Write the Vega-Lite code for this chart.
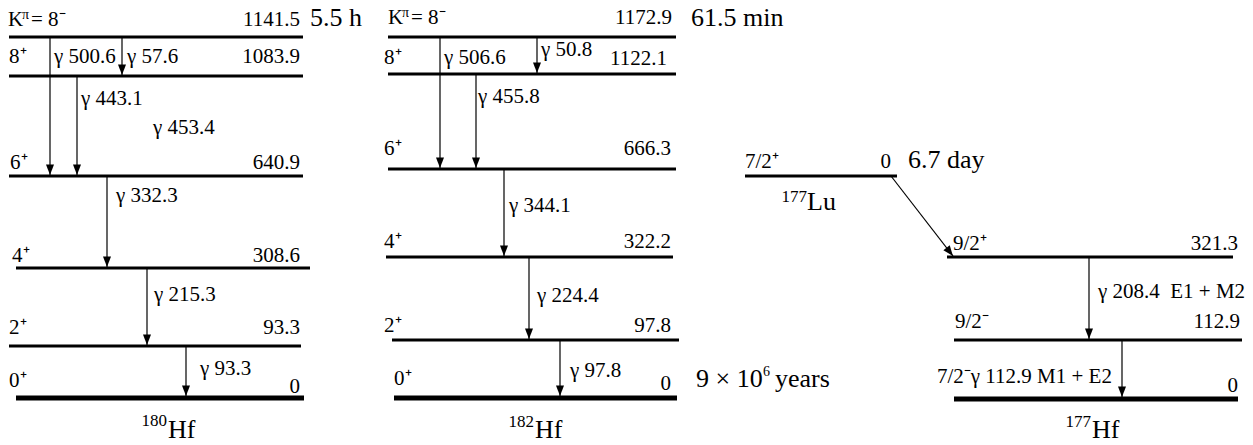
{
  "$schema": "https://vega.github.io/schema/vega-lite/v6.json",
  "width": 1253,
  "height": 445,
  "padding": 0,
  "autosize": {"type": "none"},
  "background": "white",
  "config": {"view": {"stroke": null}, "text": {"font": "Liberation Serif", "color": "black"}},
  "datasets": {
    "levels": [
      {"nuclide": "180Hf", "x1": 9, "x2": 303, "y": 37, "kind": "level"},
      {"nuclide": "180Hf", "x1": 9, "x2": 303, "y": 76, "kind": "level"},
      {"nuclide": "180Hf", "x1": 9, "x2": 303, "y": 176, "kind": "level"},
      {"nuclide": "180Hf", "x1": 16, "x2": 310, "y": 268, "kind": "level"},
      {"nuclide": "180Hf", "x1": 9, "x2": 301, "y": 346, "kind": "level"},
      {"nuclide": "180Hf", "x1": 16, "x2": 304, "y": 398, "kind": "ground"},
      {"nuclide": "182Hf", "x1": 388, "x2": 676, "y": 37, "kind": "level"},
      {"nuclide": "182Hf", "x1": 388, "x2": 676, "y": 74, "kind": "level"},
      {"nuclide": "182Hf", "x1": 388, "x2": 676, "y": 169, "kind": "level"},
      {"nuclide": "182Hf", "x1": 386, "x2": 673, "y": 257, "kind": "level"},
      {"nuclide": "182Hf", "x1": 392, "x2": 679, "y": 340, "kind": "level"},
      {"nuclide": "182Hf", "x1": 394, "x2": 677, "y": 398, "kind": "ground"},
      {"nuclide": "177Lu", "x1": 745, "x2": 897, "y": 176, "kind": "level"},
      {"nuclide": "177Hf", "x1": 947, "x2": 1233, "y": 257, "kind": "level"},
      {"nuclide": "177Hf", "x1": 954, "x2": 1242, "y": 340, "kind": "level"},
      {"nuclide": "177Hf", "x1": 954, "x2": 1238, "y": 399, "kind": "ground"}
    ],
    "transitions": [
      {"gamma": "57.6", "x1": 122, "y1": 37, "x2": 122, "y2": 75, "dir": "vertical"},
      {"gamma": "500.6", "x1": 50, "y1": 37, "x2": 50, "y2": 175, "dir": "vertical"},
      {"gamma": "443.1", "x1": 77, "y1": 76, "x2": 77, "y2": 175, "dir": "vertical"},
      {"gamma": "332.3", "x1": 107, "y1": 176, "x2": 107, "y2": 267, "dir": "vertical"},
      {"gamma": "215.3", "x1": 147, "y1": 268, "x2": 147, "y2": 345, "dir": "vertical"},
      {"gamma": "93.3", "x1": 186, "y1": 346, "x2": 186, "y2": 396, "dir": "vertical"},
      {"gamma": "50.8", "x1": 537, "y1": 37, "x2": 537, "y2": 73, "dir": "vertical"},
      {"gamma": "506.6", "x1": 440, "y1": 37, "x2": 440, "y2": 168, "dir": "vertical"},
      {"gamma": "455.8", "x1": 476, "y1": 74, "x2": 476, "y2": 168, "dir": "vertical"},
      {"gamma": "344.1", "x1": 504, "y1": 169, "x2": 504, "y2": 256, "dir": "vertical"},
      {"gamma": "224.4", "x1": 529, "y1": 257, "x2": 529, "y2": 339, "dir": "vertical"},
      {"gamma": "97.8", "x1": 560, "y1": 340, "x2": 560, "y2": 396, "dir": "vertical"},
      {"gamma": "beta", "x1": 891, "y1": 176, "x2": 953, "y2": 256, "dir": "diagonal"},
      {"gamma": "208.4", "x1": 1089, "y1": 257, "x2": 1089, "y2": 339, "dir": "vertical"},
      {"gamma": "112.9", "x1": 1122, "y1": 340, "x2": 1122, "y2": 397, "dir": "vertical"}
    ],
    "labels": [
      {"text": "K", "x": 8, "y": 26, "anchor": "start", "size": "label"},
      {"text": "π", "x": 22, "y": 19, "anchor": "start", "size": "supsmall"},
      {"text": "= 8⁻", "x": 31, "y": 26, "anchor": "start", "size": "label"},
      {"text": "1141.5", "x": 300, "y": 26, "anchor": "end", "size": "label"},
      {"text": "5.5 h", "x": 310, "y": 26, "anchor": "start", "size": "large"},
      {"text": "8⁺", "x": 9, "y": 63, "anchor": "start", "size": "label"},
      {"text": "γ 500.6", "x": 54, "y": 63, "anchor": "start", "size": "label"},
      {"text": "γ 57.6", "x": 127, "y": 63, "anchor": "start", "size": "label"},
      {"text": "1083.9", "x": 300, "y": 63, "anchor": "end", "size": "label"},
      {"text": "γ 443.1", "x": 81, "y": 105, "anchor": "start", "size": "label"},
      {"text": "γ 453.4", "x": 153, "y": 134, "anchor": "start", "size": "label"},
      {"text": "6⁺", "x": 10, "y": 169, "anchor": "start", "size": "label"},
      {"text": "640.9", "x": 300, "y": 169, "anchor": "end", "size": "label"},
      {"text": "γ 332.3", "x": 116, "y": 202, "anchor": "start", "size": "label"},
      {"text": "4⁺", "x": 12, "y": 262, "anchor": "start", "size": "label"},
      {"text": "308.6", "x": 300, "y": 262, "anchor": "end", "size": "label"},
      {"text": "γ 215.3", "x": 154, "y": 301, "anchor": "start", "size": "label"},
      {"text": "2⁺", "x": 9, "y": 334, "anchor": "start", "size": "label"},
      {"text": "93.3", "x": 300, "y": 334, "anchor": "end", "size": "label"},
      {"text": "γ 93.3", "x": 200, "y": 375, "anchor": "start", "size": "label"},
      {"text": "0⁺", "x": 9, "y": 387, "anchor": "start", "size": "label"},
      {"text": "0", "x": 300, "y": 393, "anchor": "end", "size": "label"},
      {"text": "180", "x": 167, "y": 426, "anchor": "end", "size": "sup"},
      {"text": "Hf", "x": 168, "y": 438, "anchor": "start", "size": "nuclide"},
      {"text": "K", "x": 388, "y": 24, "anchor": "start", "size": "label"},
      {"text": "π", "x": 402, "y": 17, "anchor": "start", "size": "supsmall"},
      {"text": "= 8⁻", "x": 411, "y": 24, "anchor": "start", "size": "label"},
      {"text": "1172.9", "x": 672, "y": 24, "anchor": "end", "size": "label"},
      {"text": "61.5 min", "x": 691, "y": 26, "anchor": "start", "size": "large"},
      {"text": "8⁺", "x": 384, "y": 64, "anchor": "start", "size": "label"},
      {"text": "γ 506.6", "x": 444, "y": 64, "anchor": "start", "size": "label"},
      {"text": "γ 50.8", "x": 541, "y": 56, "anchor": "start", "size": "label"},
      {"text": "1122.1", "x": 667, "y": 65, "anchor": "end", "size": "label"},
      {"text": "γ 455.8", "x": 478, "y": 103, "anchor": "start", "size": "label"},
      {"text": "6⁺", "x": 384, "y": 155, "anchor": "start", "size": "label"},
      {"text": "666.3", "x": 671, "y": 155, "anchor": "end", "size": "label"},
      {"text": "γ 344.1", "x": 509, "y": 212, "anchor": "start", "size": "label"},
      {"text": "4⁺", "x": 384, "y": 248, "anchor": "start", "size": "label"},
      {"text": "322.2", "x": 671, "y": 248, "anchor": "end", "size": "label"},
      {"text": "γ 224.4", "x": 537, "y": 302, "anchor": "start", "size": "label"},
      {"text": "2⁺", "x": 384, "y": 332, "anchor": "start", "size": "label"},
      {"text": "97.8", "x": 671, "y": 332, "anchor": "end", "size": "label"},
      {"text": "γ 97.8", "x": 570, "y": 377, "anchor": "start", "size": "label"},
      {"text": "0⁺", "x": 394, "y": 385, "anchor": "start", "size": "label"},
      {"text": "0", "x": 671, "y": 390, "anchor": "end", "size": "label"},
      {"text": "9 × 10", "x": 696, "y": 387, "anchor": "start", "size": "large"},
      {"text": "6", "x": 763, "y": 376, "anchor": "start", "size": "supsmall"},
      {"text": "years", "x": 775, "y": 387, "anchor": "start", "size": "large"},
      {"text": "182", "x": 534, "y": 427, "anchor": "end", "size": "sup"},
      {"text": "Hf", "x": 535, "y": 438, "anchor": "start", "size": "nuclide"},
      {"text": "7/2⁺", "x": 745, "y": 168, "anchor": "start", "size": "label"},
      {"text": "0", "x": 891, "y": 168, "anchor": "end", "size": "label"},
      {"text": "6.7 day", "x": 908, "y": 168, "anchor": "start", "size": "large"},
      {"text": "177", "x": 807, "y": 202, "anchor": "end", "size": "sup"},
      {"text": "Lu", "x": 807, "y": 210, "anchor": "start", "size": "nuclide"},
      {"text": "9/2⁺", "x": 953, "y": 250, "anchor": "start", "size": "label"},
      {"text": "321.3", "x": 1238, "y": 250, "anchor": "end", "size": "label"},
      {"text": "γ 208.4\u00a0\u00a0E1 + M2", "x": 1098, "y": 298, "anchor": "start", "size": "label"},
      {"text": "9/2⁻", "x": 955, "y": 328, "anchor": "start", "size": "label"},
      {"text": "112.9", "x": 1240, "y": 328, "anchor": "end", "size": "label"},
      {"text": "7/2⁻γ 112.9\u00a0M1 + E2", "x": 937, "y": 383, "anchor": "start", "size": "label"},
      {"text": "0", "x": 1238, "y": 392, "anchor": "end", "size": "label"},
      {"text": "177", "x": 1091, "y": 427, "anchor": "end", "size": "sup"},
      {"text": "Hf", "x": 1092, "y": 438, "anchor": "start", "size": "nuclide"}
    ]
  },
  "layer": [
    {
      "data": {"name": "levels"},
      "mark": {"type": "rule", "color": "black", "strokeCap": "butt"},
      "encoding": {
        "x": {"field": "x1", "type": "quantitative", "scale": {"domain": [0, 1253], "nice": false, "zero": false}, "axis": null},
        "x2": {"field": "x2"},
        "y": {"field": "y", "type": "quantitative", "scale": {"domain": [0, 445], "nice": false, "zero": false, "reverse": true}, "axis": null},
        "strokeWidth": {"field": "kind", "type": "nominal", "scale": {"type": "ordinal", "domain": ["level", "ground"], "range": [3, 5]}, "legend": null}
      }
    },
    {
      "data": {"name": "transitions"},
      "mark": {"type": "rule", "color": "black", "strokeWidth": 1.2},
      "encoding": {
        "x": {"field": "x1", "type": "quantitative"},
        "x2": {"field": "x2"},
        "y": {"field": "y1", "type": "quantitative"},
        "y2": {"field": "y2"}
      }
    },
    {
      "data": {"name": "transitions"},
      "transform": [{"filter": "datum.dir === 'vertical'"}],
      "mark": {"type": "point", "shape": "M-0.4,-1.05L0.4,-1.05L0,0Z", "size": 400, "filled": true, "color": "black", "opacity": 1, "strokeWidth": 0},
      "encoding": {
        "x": {"field": "x2", "type": "quantitative"},
        "y": {"field": "y2", "type": "quantitative"}
      }
    },
    {
      "data": {"name": "transitions"},
      "transform": [{"filter": "datum.dir === 'diagonal'"}],
      "mark": {"type": "point", "shape": "M-0.4,-1.05L0.4,-1.05L0,0Z", "size": 400, "filled": true, "color": "black", "opacity": 1, "strokeWidth": 0, "angle": 322},
      "encoding": {
        "x": {"field": "x2", "type": "quantitative"},
        "y": {"field": "y2", "type": "quantitative"}
      }
    },
    {
      "data": {"name": "labels"},
      "transform": [{"filter": "datum.anchor === 'start'"}],
      "mark": {"type": "text", "align": "left", "baseline": "alphabetic"},
      "encoding": {
        "x": {"field": "x", "type": "quantitative"},
        "y": {"field": "y", "type": "quantitative"},
        "text": {"field": "text"},
        "size": {"field": "size", "type": "nominal", "scale": {"type": "ordinal", "domain": ["label", "large", "sup", "supsmall", "nuclide"], "range": [21, 26, 17, 14, 26]}, "legend": null}
      }
    },
    {
      "data": {"name": "labels"},
      "transform": [{"filter": "datum.anchor === 'end'"}],
      "mark": {"type": "text", "align": "right", "baseline": "alphabetic"},
      "encoding": {
        "x": {"field": "x", "type": "quantitative"},
        "y": {"field": "y", "type": "quantitative"},
        "text": {"field": "text"},
        "size": {"field": "size", "type": "nominal", "scale": {"type": "ordinal", "domain": ["label", "large", "sup", "supsmall", "nuclide"], "range": [21, 26, 17, 14, 26]}, "legend": null}
      }
    }
  ]
}
